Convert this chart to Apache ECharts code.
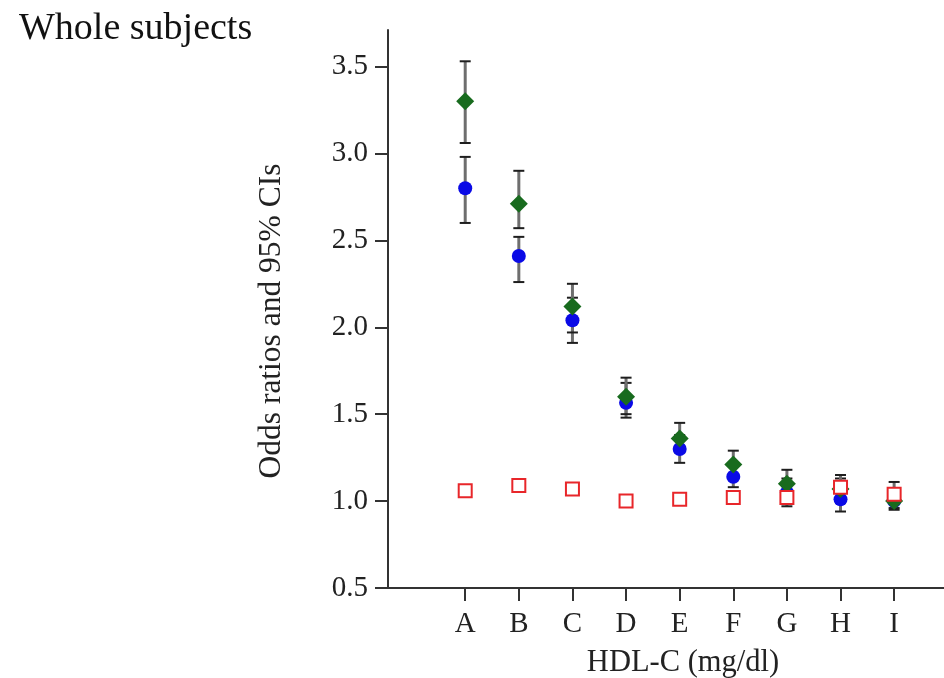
<!DOCTYPE html>
<html>
<head>
<meta charset="utf-8">
<script src="https://cdn.jsdelivr.net/npm/echarts@6/dist/echarts.min.js"></script>
<style>
  html, body { margin: 0; padding: 0; background: #fff; }
  #chart { width: 944px; height: 678px; }
</style>
</head>
<body>
<div id="chart"></div>
<script>
// HDL-C categories
const categories = ['A', 'B', 'C', 'D', 'E', 'F', 'G', 'H', 'I'];

// Odds ratios (green diamonds) with 95% CI
const greenOR   = [3.30, 2.71, 2.12, 1.60, 1.36, 1.21, 1.10, 1.07, 1.00];
const greenLow  = [3.06, 2.57, 1.97, 1.50, 1.28, 1.13, 1.02, 0.99, 0.96];
const greenHigh = [3.53, 2.90, 2.25, 1.71, 1.45, 1.29, 1.18, 1.15, 1.11];

// Odds ratios (blue circles) with 95% CI
const blueOR   = [2.80, 2.41, 2.04, 1.565, 1.30, 1.14, 1.05, 1.01, 1.00];
const blueLow  = [2.60, 2.26, 1.91, 1.48, 1.22, 1.08, 0.97, 0.94, 0.95];
const blueHigh = [2.98, 2.52, 2.17, 1.68, 1.38, 1.21, 1.13, 1.13, 1.06];

// Odds ratios (red open squares)
const redOR = [1.06, 1.09, 1.07, 1.00, 1.01, 1.02, 1.02, 1.08, 1.04];

// y-axis tick labels
const yTicks = [0.5, 1.0, 1.5, 2.0, 2.5, 3.0, 3.5];

const xPos = categories.map((_, i) => i + 1);
const FONT = '"Liberation Serif", "DejaVu Serif", serif';

function pts(vals) { return vals.map((v, i) => [xPos[i], v]); }
function ci(lo, hi) { return lo.map((l, i) => [xPos[i], l, hi[i]]); }

function renderErrorBar(params, api) {
  const x = api.value(0);
  const pLo = api.coord([x, api.value(1)]);
  const pHi = api.coord([x, api.value(2)]);
  const hw = 5.5;
  return {
    type: 'group',
    children: [
      { type: 'line', shape: { x1: pLo[0], y1: pLo[1], x2: pHi[0], y2: pHi[1] },
        style: { stroke: '#6e6e6e', lineWidth: 3 } },
      { type: 'line', shape: { x1: pHi[0] - hw, y1: pHi[1], x2: pHi[0] + hw, y2: pHi[1] },
        style: { stroke: '#1e1e1e', lineWidth: 2 } },
      { type: 'line', shape: { x1: pLo[0] - hw, y1: pLo[1], x2: pLo[0] + hw, y2: pLo[1] },
        style: { stroke: '#1e1e1e', lineWidth: 2 } }
    ]
  };
}

const chart = echarts.init(document.getElementById('chart'), null, { renderer: 'canvas' });

chart.setOption({
  animation: false,
  backgroundColor: '#ffffff',
  title: {
    text: 'Whole subjects',
    left: 14,
    top: 5,
    textStyle: { fontFamily: FONT, fontSize: 38, fontWeight: 'normal', color: '#111' }
  },
  grid: { left: 388, right: 0, top: 30, bottom: 90, containLabel: false, outerBoundsMode: 'none' },
  xAxis: {
    type: 'value',
    min: -0.44,
    max: 9.93,
    axisLine: { show: true, onZero: false, lineStyle: { color: '#333', width: 2 } },
    axisTick: { show: true, customValues: xPos, length: 13, lineStyle: { color: '#333', width: 2 } },
    axisLabel: {
      customValues: xPos,
      formatter: v => categories[Math.round(v) - 1] || '',
      fontFamily: FONT, fontSize: 29, color: '#222', margin: 22
    },
    splitLine: { show: false },
    name: 'HDL-C (mg/dl)',
    nameLocation: 'middle',
    nameGap: 59,
    nameTextStyle: { fontFamily: FONT, fontSize: 30.5, color: '#222', padding: [0, 0, 0, 34] }
  },
  yAxis: {
    type: 'value',
    min: 0.5,
    max: 3.71,
    axisLine: { show: true, onZero: false, lineStyle: { color: '#333', width: 2 } },
    axisTick: { show: true, customValues: yTicks, length: 13, lineStyle: { color: '#333', width: 2 } },
    axisLabel: {
      customValues: yTicks,
      formatter: v => v.toFixed(1),
      fontFamily: FONT, fontSize: 29, color: '#222', margin: 20
    },
    splitLine: { show: false },
    name: 'Odds ratios and 95% CIs',
    nameLocation: 'middle',
    nameGap: 100,
    nameTextStyle: { fontFamily: FONT, fontSize: 31.5, color: '#222', padding: [0, 24, 0, 0] }
  },
  series: [
    {
      type: 'custom', name: 'ci-blue', z: 1,
      renderItem: renderErrorBar, data: ci(blueLow, blueHigh)
    },
    {
      type: 'custom', name: 'ci-green', z: 1,
      renderItem: renderErrorBar, data: ci(greenLow, greenHigh)
    },
    {
      type: 'scatter', name: 'blue', z: 2,
      symbol: 'circle', symbolSize: 14,
      itemStyle: { color: '#0a0ae6', opacity: 1 },
      data: pts(blueOR)
    },
    {
      type: 'scatter', name: 'green', z: 3,
      symbol: 'diamond', symbolSize: 18,
      itemStyle: { color: '#186b1e', opacity: 1 },
      data: pts(greenOR)
    },
    {
      type: 'scatter', name: 'red', z: 4,
      symbol: 'rect', symbolSize: 13,
      itemStyle: { color: '#ffffff', borderColor: '#e8262a', borderWidth: 2, opacity: 1 },
      data: pts(redOR)
    }
  ]
});
</script>
</body>
</html>
